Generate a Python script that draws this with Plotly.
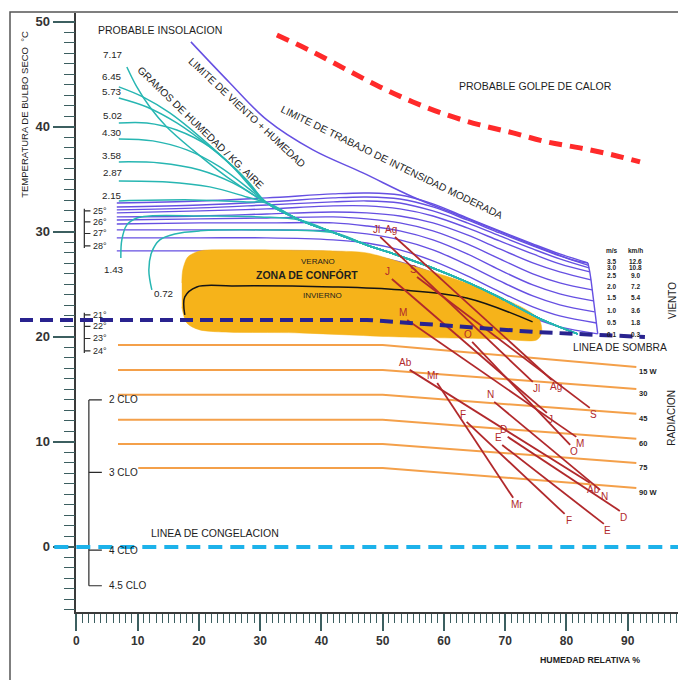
import plotly.graph_objects as go

# ---- axis extents ---------------------------------------------------------
RH_LEFT, RH_MAX = -9.2, 98.2      # drawing area reaches a little left of the temperature axis
T_MIN, T_MAX = -6.2, 50.85

# ---- wind (ventilation) curves -------------------------------------------
wind_rh = [6.6, 20.2, 31.1, 41.9, 47.4, 52.8, 58.2, 63.8, 69.1, 74.5, 78.9]
wind_end_rh = [83.5, 83.6, 83.7, 83.8, 84.0, 84.2, 84.4, 84.6, 84.9, 85.1]
wind_t = [
    [32.76, 32.95, 33.24, 33.62, 33.71, 33.52, 32.67, 31.33, 30.10, 28.86, 27.90, 27.05],
    [32.38, 32.57, 32.86, 33.24, 33.33, 33.14, 32.38, 31.14, 29.90, 28.67, 27.71, 26.81],
    [32.10, 32.29, 32.57, 32.86, 32.95, 32.76, 32.00, 30.86, 29.62, 28.38, 27.43, 26.57],
    [31.81, 32.00, 32.19, 32.48, 32.48, 32.19, 31.52, 30.38, 29.14, 27.90, 26.95, 26.19],
    [31.43, 31.52, 31.71, 31.90, 31.81, 31.52, 30.86, 29.71, 28.38, 27.05, 26.19, 25.43],
    [31.14, 31.24, 31.33, 31.43, 31.24, 30.86, 30.10, 28.86, 27.43, 26.00, 25.14, 24.48],
    [30.76, 30.86, 30.86, 30.86, 30.57, 30.10, 29.24, 27.90, 26.38, 24.95, 24.10, 23.43],
    [30.19, 30.19, 30.19, 30.10, 29.81, 29.24, 28.29, 26.86, 25.33, 23.90, 23.05, 22.38],
    [29.43, 29.43, 29.43, 29.24, 28.95, 28.29, 27.24, 25.81, 24.29, 22.86, 22.00, 21.33],
    [28.19, 28.19, 28.19, 28.10, 27.81, 27.14, 26.10, 24.67, 23.14, 21.81, 20.95, 20.29],
]
wind_ms = ["3.5", "3.0", "2.5", "2.0", "1.5", "1.0", "0.5", "0.1"]
wind_kmh = ["12.6", "10.8", "9.0", "7.2", "5.4", "3.6", "1.8", "0.3"]
wind_row_t = [27.19, 26.57, 25.86, 24.76, 23.71, 22.48, 21.33, 20.19]

# ---- limits ---------------------------------------------------------------
limit_rh = [18.69, 25.06, 31.10, 38.61, 46.78, 54.94, 63.10, 71.27, 81.06, 83.51]
limit_t = [48.10, 44.19, 40.67, 37.81, 35.62, 33.33, 31.43, 29.52, 27.33, 27.05]
heat_rh = [32.73, 38.61, 44.16, 49.55, 54.94, 60.49, 65.88, 71.27, 76.82, 82.20, 87.59, 92.0]
heat_t = [48.76, 47.14, 45.43, 43.81, 42.38, 41.14, 40.19, 39.43, 38.57, 38.0, 37.33, 36.67]

# ---- moisture content curves (g / kg air) ---------------------------------
vapor_labels = ["7.17", "6.45", "5.73", "5.02", "4.30", "3.58", "2.87", "2.15", "1.43", "0.72"]
vapor_rh = [
    [8.24, 9.87, 11.99, 14.76, 19.0, 24.55],
    [6.93, 10.85, 15.25, 20.15, 25.53],
    [6.93, 11.50, 16.39, 21.78, 26.67],
    [6.93, 11.50, 16.39, 21.78, 27.81],
    [6.93, 12.48, 18.03, 23.41, 28.79],
    [6.93, 13.62, 20.15, 25.53],
    [6.93, 14.76, 21.78, 27.81],
    [6.93, 19.0, 27.81],
    [7.26, 7.42, 8.24, 9.87, 11.99, 20.15, 29.93],
    [12.32, 11.83, 12.32, 13.62, 16.07, 20.15, 29.93],
]
vapor_t = [
    [45.71, 43.81, 41.90, 40.0, 37.81, 35.24],
    [43.81, 42.86, 41.33, 39.05, 36.19],
    [42.76, 41.90, 40.38, 38.10, 35.62],
    [40.38, 40.38, 39.71, 38.10, 34.95],
    [38.86, 38.67, 37.81, 36.19, 33.81],
    [36.67, 36.57, 35.90, 34.67],
    [34.86, 34.76, 34.29, 33.33],
    [32.95, 33.05, 32.86],
    [27.52, 29.24, 30.67, 31.33, 31.52, 31.52, 31.43],
    [24.48, 26.38, 28.10, 29.24, 29.81, 30.10, 30.19],
]
vapor_join = [0, 0, 0, 0, 0, 0, 0, 0, 1, 2]
vapor_label_rh = [7.6, 7.6, 7.6, 7.6, 7.6, 7.6, 7.6, 7.6, 7.9, 14.3]
vapor_label_t = [46.86, 44.76, 43.33, 41.05, 39.43, 37.24, 35.62, 33.43, 26.38, 24.10]
env_rh = [31.08, 36.46, 42.17, 47.39, 52.77, 58.16, 63.70, 68.60, 76.10, 81.81]
env_t = [32.76, 31.14, 29.90, 28.76, 27.71, 26.57, 25.24, 23.90, 21.62, 20.29]

# ---- comfort zone ---------------------------------------------------------
comfort_rh = [17.21, 17.37, 18.19, 20.15, 22.92, 41.84, 47.39, 52.77, 58.16, 63.70, 69.09,
              73.49, 75.61, 75.94, 75.12, 69.09, 52.77, 36.46, 20.15, 18.03, 17.21]
comfort_t = [25.14, 26.38, 27.62, 28.19, 28.29, 28.19, 28.0, 27.14, 26.19, 25.14, 23.81,
             22.57, 21.62, 20.38, 19.71, 19.81, 20.0, 20.38, 20.67, 21.33, 22.86]
winter_rh = [17.70, 17.70, 19.66, 25.53, 41.84, 52.77, 63.70, 74.47]
winter_t = [22.10, 23.81, 24.76, 24.86, 24.76, 24.48, 23.71, 21.43]

# ---- radiation lines ------------------------------------------------------
rad_labels = ["15 W", "30", "45", "60", "75", "90 W"]
rad_start_rh = [6.8, 6.8, 6.8, 6.8, 6.8, 10.1]
rad_break_rh = 50.0
rad_end_rh = 91.4
rad_left_t = [19.24, 16.86, 14.48, 12.10, 9.81, 7.52]
rad_right_t = [17.14, 15.05, 12.67, 10.29, 8.00, 5.62]

# ---- shade line and freezing line -----------------------------------------
shade_rh = [RH_LEFT, 47.4, 63.7, 74.5, 85.1, 92.8]
shade_t = [21.62, 21.62, 20.95, 20.48, 20.19, 20.0]
freeze_rh = [-3.6, RH_MAX]
freeze_t = 0.0

# ---- side scales ----------------------------------------------------------
wind_temp_labels = ["25°", "26°", "27°", "28°"]
wind_temp_t = [32.0, 30.95, 29.85, 28.67]
shade_temp_labels = ["21°", "22°", "23°", "24°"]
shade_temp_t = [22.10, 21.0, 19.85, 18.67]
clo_labels = ["2 CLO", "3 CLO", "4 CLO", "4.5 CLO"]
clo_t = [14.0, 7.1, -0.3, -3.7]

# ---- monthly climate lines (max temp / min RH  ->  min temp / max RH) -----
months = ["Jl", "Ag", "J", "S", "M", "O", "Ab", "Mr", "N", "F", "E", "D"]
month_rh_min = [49.6, 52.0, 51.5, 55.6, 54.0, 64.6, 54.4, 58.9, 68.2, 63.7, 69.5, 70.4]
month_t_max = [29.52, 29.52, 25.52, 25.71, 21.62, 19.52, 16.86, 15.62, 13.81, 11.90, 9.71, 10.48]
month_rh_max = [74.5, 77.6, 76.8, 83.8, 81.6, 80.6, 83.8, 71.3, 85.5, 79.7, 86.1, 88.7]
month_t_min = [15.71, 15.90, 12.76, 13.24, 10.48, 9.71, 6.10, 4.67, 5.43, 3.14, 2.19, 3.43]

# ---- styles ---------------------------------------------------------------
FONT = "Liberation Sans, Arial, sans-serif"
INK = "#1e1e1e"
PURPLE = "#6650E2"
CYAN = "#27B6B2"
ORANGE = "#F4A04A"
GOLD = "#F6B31A"
RED = "#B1292C"
NAVY = "#29238F"
SKY = "#1DB2EA"
HEAT = "#FF2A2A"
TICK = "#3C5F60"

fig = go.Figure()


def line(x, y, color, width=1.5, dash=None, shape="linear", axes=("x", "y")):
    fig.add_trace(go.Scatter(
        x=x, y=y, mode="lines",
        line=dict(color=color, width=width, dash=dash, shape=shape, smoothing=1.0),
        xaxis=axes[0], yaxis=axes[1], hoverinfo="skip", showlegend=False))


def text(s, x, y, size=10.5, color=INK, anchor="center", angle=0,
         xref="x", yref="y", weight="normal", yanchor="middle", xshift=0, yshift=0):
    fig.add_annotation(
        text=s, x=x, y=y, xref=xref, yref=yref, showarrow=False,
        font=dict(family=FONT, size=size, color=color, weight=weight),
        xanchor=anchor, yanchor=yanchor, textangle=angle, xshift=xshift, yshift=yshift,
        borderpad=0)


# wind curves and the closing edge at their right ends
for temps, end_rh in zip(wind_t, wind_end_rh):
    line(wind_rh + [end_rh], temps, PURPLE, 1.4, shape="spline")
line(wind_end_rh, [t[-1] for t in wind_t], PURPLE, 1.4)

# wind + humidity limit and heat stroke boundary
line(limit_rh, limit_t, PURPLE, 1.5, shape="spline")
line(heat_rh, heat_t, HEAT, 5, dash="13px,8px", shape="spline")

# comfort zone
fig.add_trace(go.Scatter(
    x=comfort_rh, y=comfort_t, mode="lines", fill="toself", fillcolor=GOLD,
    line=dict(color=GOLD, width=0.5, shape="spline", smoothing=0.8),
    hoverinfo="skip", showlegend=False))

# moisture content curves, each merging into the common envelope
for rh, t, j in zip(vapor_rh, vapor_t, vapor_join):
    line(rh + env_rh[j:], t + env_t[j:], CYAN, 1.5, shape="spline")

# radiation lines
for x0, tl, tr in zip(rad_start_rh, rad_left_t, rad_right_t):
    line([x0, rad_break_rh, rad_end_rh], [tl, tl, tr], ORANGE, 2)

# winter comfort limit
line(winter_rh, winter_t, "#151515", 1.5, shape="spline")


# side brackets
def bracket(temps, x_bar, x_tick, extend=0.2):
    xs, ys = [x_bar, x_bar, None], [temps[0] + extend, temps[-1] - extend, None]
    for t in temps:
        xs += [x_bar, x_tick, None]
        ys += [t, t, None]
    line(xs, ys, "#2a2a2a", 1.2)


bracket(wind_temp_t, 1.3, 2.3)
bracket(shade_temp_t, 1.3, 2.3)
bracket(clo_t, 2.04, 4.16, extend=0.0)

# monthly lines
for m, x0, y0, x1, y1 in zip(months, month_rh_min, month_t_max, month_rh_max, month_t_min):
    line([x0, x1], [y0, y1], RED, 1.8)
    text(m, x0, y0, size=10, color=RED, xshift=-4, yshift=7)
    text(m, x1, y1, size=10, color=RED, xshift=4, yshift=-7)

# shade line and freezing line, drawn on the wide overlay so they cross the axis
line(shade_rh, shade_t, NAVY, 4, dash="13px,7px", axes=("x2", "y2"))
line(freeze_rh, [freeze_t, freeze_t], SKY, 4, dash="14px,8px", axes=("x2", "y2"))

# ---- text ----------------------------------------------------------------
text("PROBABLE INSOLACION", 3.35, 49.24, size=10.5, anchor="left")
text("PROBABLE GOLPE DE CALOR", 74.9, 43.9, size=10.5)
text("LIMITE DE VIENTO + HUMEDAD", 27.8, 41.33, size=10.3, angle=43)
text("GRAMOS DE HUMEDAD / KG. AIRE", 20.2, 39.9, size=10.3, angle=44)
text("LIMITE DE TRABAJO DE INTENSIDAD MODERADA", 51.5, 36.57, size=10.3, angle=26)
text("VERANO", 39.5, 27.14, size=8)
text("ZONA DE CONFÓRT", 37.6, 25.9, size=10.5, weight="bold")
text("INVIERNO", 40.1, 23.9, size=8)
text("LINEA DE CONGELACION", 22.6, 1.33, size=10.5)
text("LINEA DE SOMBRA", 88.7, 18.95, size=10.3)

for lab, x, y in zip(vapor_labels, vapor_label_rh, vapor_label_t):
    text(lab, x, y, size=9.8, anchor="right" if x < 8 else "center")

for lab, t in zip(wind_temp_labels, wind_temp_t):
    text(lab, 2.5, t, size=9, anchor="left")
for lab, t in zip(shade_temp_labels, shade_temp_t):
    text(lab, 2.5, t, size=9, anchor="left")
for lab, t in zip(clo_labels, clo_t):
    text(lab, 5.1, t, size=10, anchor="left")

# wind speed table
text("m/s", 87.4, 28.19, size=6.5, weight="bold")
text("km/h", 91.3, 28.19, size=6.5, weight="bold")
for ms, kmh, t in zip(wind_ms, wind_kmh, wind_row_t):
    text(ms, 87.4, t, size=6.5, weight="bold")
    text(kmh, 91.3, t, size=6.5, weight="bold")
text("VIENTO", 97.2, 23.5, size=10, angle=-90)

# radiation labels
for lab, t in zip(rad_labels, rad_right_t):
    text(lab, 91.7, t, size=7.5, anchor="left", weight="bold", yshift=-5)
text("RADIACION", 97.2, 12.3, size=10, angle=-90)

# axis titles and the partly visible last tick label
text("TEMPERATURA DE BULBO SECO  °C", 0.0076, 0.83, size=9.5, angle=-90,
     xref="paper", yref="paper")
text("HUMEDAD RELATIVA %", 83.8, -0.080, size=8.8, yref="paper", weight="bold")
text("100", (100 - RH_LEFT) / (RH_MAX - RH_LEFT), 0, size=12, weight="bold",
     xref="paper", yref="paper", yanchor="top", yshift=-20, color="#333")

# ---- axes ------------------------------------------------------------------
x_dom0 = (0 - RH_LEFT) / (RH_MAX - RH_LEFT)

fig.update_layout(
    width=678, height=680,
    margin=dict(l=20, r=0, t=13, b=68, autoexpand=False),
    paper_bgcolor="white", plot_bgcolor="rgba(0,0,0,0)",
    showlegend=False,
    xaxis=dict(
        domain=[x_dom0, 1], range=[0, RH_MAX], anchor="y",
        showline=True, linecolor="#3a3a3a", linewidth=1.5,
        showgrid=False, zeroline=False,
        tickmode="linear", tick0=0, dtick=10,
        ticks="outside", ticklen=17, tickwidth=1.5, tickcolor=TICK,
        minor=dict(dtick=1, ticks="outside", ticklen=9, tickwidth=1, tickcolor=TICK),
        tickfont=dict(family=FONT, size=12, color="#333", weight="bold"),
    ),
    yaxis=dict(
        domain=[0, 1], range=[T_MIN, T_MAX], anchor="x",
        showline=True, linecolor="#3a3a3a", linewidth=1.5,
        showgrid=False, zeroline=False,
        tickmode="linear", tick0=0, dtick=10,
        ticks="outside", ticklen=22, tickwidth=1.5, tickcolor=TICK,
        minor=dict(dtick=1, ticks="outside", ticklen=11, tickwidth=1.2, tickcolor=TICK),
        tickfont=dict(family=FONT, size=13, color="#333", weight="bold"),
    ),
    xaxis2=dict(domain=[0, 1], range=[RH_LEFT, RH_MAX], anchor="y2", visible=False),
    yaxis2=dict(domain=[0, 1], range=[T_MIN, T_MAX], anchor="x2", visible=False),
    shapes=[dict(type="rect", xref="paper", yref="paper",
                 x0=-10 / 658, x1=1.1, y0=-0.2, y1=1.0017,
                 line=dict(color="#555", width=1.5))],
)

fig.write_html("out.html", config={"displayModeBar": False})
